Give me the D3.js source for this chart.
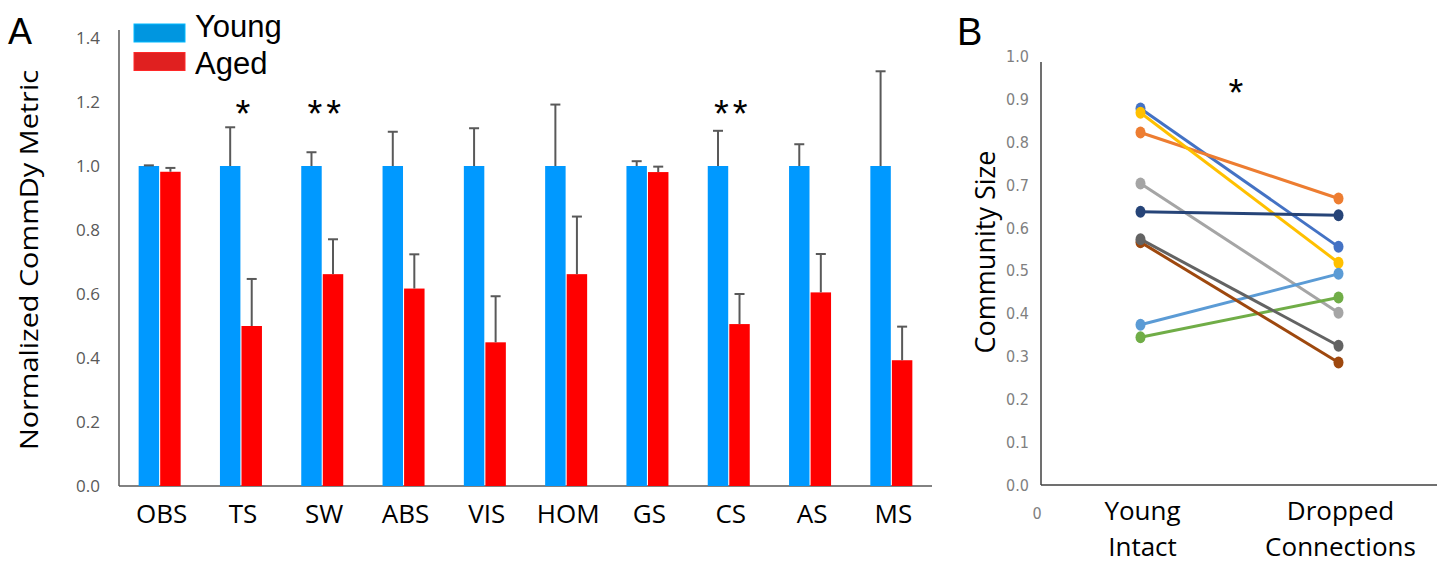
<!DOCTYPE html>
<html>
<head>
<meta charset="utf-8">
<script src="https://cdn.jsdelivr.net/npm/d3@7"></script>
<style>
  body { margin: 0; background: #fff; }
  svg { display: block; }
  text { font-family: "Open Sans", sans-serif; }
  .arial { font-family: "Liberation Sans", Arial, sans-serif; }
  .narrow { font-family: "Liberation Sans Narrow", "DejaVu Sans Condensed", sans-serif; }
</style>
</head>
<body>
<svg width="1442" height="563"></svg>
<script>
// panel A data
const tasks = ['OBS', 'TS', 'SW', 'ABS', 'VIS', 'HOM', 'GS', 'CS', 'AS', 'MS'];
const youngMean = [1, 1, 1, 1, 1, 1, 1, 1, 1, 1];
const youngErr = [0.002, 0.121, 0.043, 0.107, 0.118, 0.192, 0.015, 0.11, 0.068, 0.296];
const agedMean = [0.982, 0.5, 0.662, 0.617, 0.449, 0.662, 0.981, 0.506, 0.605, 0.393];
const agedErr = [0.012, 0.147, 0.109, 0.107, 0.144, 0.18, 0.017, 0.094, 0.12, 0.105];
const stars = { TS: '*', SW: '**', CS: '**' };
const yTicksA = [0, 0.2, 0.4, 0.6, 0.8, 1.0, 1.2, 1.4];

// panel B data
const conditions = ['Young Intact', 'Dropped Connections'];
const subjects = ['s1', 's2', 's3', 's4', 's5', 's6', 's7', 's8', 's9'];
const intactSize = [0.879, 0.823, 0.704, 0.869, 0.374, 0.345, 0.638, 0.567, 0.574];
const droppedSize = [0.556, 0.669, 0.402, 0.519, 0.493, 0.438, 0.63, 0.286, 0.325];
const lineColors = ['#4472C4', '#ED7D31', '#A5A5A5', '#FFC000', '#5B9BD5', '#70AD47', '#264478', '#9E480E', '#636363'];
const yTicksB = [0, 0.1, 0.2, 0.3, 0.4, 0.5, 0.6, 0.7, 0.8, 0.9, 1.0];

const svg = d3.select('svg');
const blue = '#0099FF', red = '#FF0000', errColor = '#595959';

// ---------- panel A ----------
const xA = d3.scaleBand().domain(tasks).range([119, 932]);
const xSeries = d3.scaleBand().domain(['young', 'aged']).range([0, 42]).paddingInner(0.05);
const yA = d3.scaleLinear().domain([0, 1.4]).range([486, 38]);
const groupLeft = t => xA(t) + xA.bandwidth() / 2 - 21;

const rowsA = tasks.map((t, i) => ({ task: t, young: youngMean[i], youngErr: youngErr[i], aged: agedMean[i], agedErr: agedErr[i] }));

const gA = svg.append('g');
gA.append('line').attr('x1', 119).attr('x2', 119).attr('y1', 30).attr('y2', yA(0))
  .attr('stroke', '#595959').attr('stroke-width', 1.5);
gA.append('line').attr('x1', 119).attr('x2', 932).attr('y1', yA(0)).attr('y2', yA(0))
  .attr('stroke', '#595959').attr('stroke-width', 1.5);

gA.selectAll('.ytick').data(yTicksA).enter().append('text')
  .attr('x', 100).attr('y', d => yA(d)).attr('dy', '0.35em')
  .attr('text-anchor', 'end').attr('font-size', 17).attr('fill', '#595959')
  .text(d => d3.format('.1f')(d));

gA.selectAll('.xlab').data(tasks).enter().append('text')
  .attr('x', d => xA(d) + xA.bandwidth() / 2 + 2).attr('y', 523)
  .attr('text-anchor', 'middle').attr('font-size', 26).attr('fill', '#000')
  .text(d => d);

['young', 'aged'].forEach(s => {
  const col = s === 'young' ? blue : red;
  gA.selectAll('.bar-' + s).data(rowsA).enter().append('rect')
    .attr('x', d => groupLeft(d.task) + xSeries(s))
    .attr('width', xSeries.bandwidth())
    .attr('y', d => yA(d[s]))
    .attr('height', d => yA(0) - yA(d[s]))
    .attr('fill', col);
  const ex = d => groupLeft(d.task) + xSeries(s) + xSeries.bandwidth() / 2;
  gA.selectAll('.err-' + s).data(rowsA).enter().append('line')
    .attr('x1', ex).attr('x2', ex)
    .attr('y1', d => yA(d[s])).attr('y2', d => yA(d[s] + d[s + 'Err']))
    .attr('stroke', errColor).attr('stroke-width', 2);
  gA.selectAll('.cap-' + s).data(rowsA).enter().append('line')
    .attr('x1', d => ex(d) - 5).attr('x2', d => ex(d) + 5)
    .attr('y1', d => yA(d[s] + d[s + 'Err'])).attr('y2', d => yA(d[s] + d[s + 'Err']))
    .attr('stroke', errColor).attr('stroke-width', 2);
});

gA.selectAll('.star').data(Object.keys(stars)).enter().append('text')
  .attr('class', 'arial')
  .attr('x', d => xA(d) + xA.bandwidth() / 2 + 4).attr('y', 127)
  .attr('text-anchor', 'middle').attr('font-size', 38).attr('letter-spacing', 4)
  .text(d => stars[d]);

// legend
const legend = [{ name: 'Young', color: '#0096E0' }, { name: 'Aged', color: '#E02020' }];
const lg = gA.selectAll('.leg').data(legend).enter().append('g');
lg.append('rect').attr('x', 134).attr('y', (d, i) => 24 + i * 28.5)
  .attr('width', 51).attr('height', 18).attr('fill', d => d.color)
  .attr('stroke', d => d3.color(d.color).brighter(0.6)).attr('stroke-width', 1);
lg.append('text').attr('class', 'arial').attr('x', 195).attr('y', (d, i) => 37 + i * 37)
  .attr('font-size', 31)
  .text(d => d.name);

svg.append('text').attr('class', 'arial').attr('x', 8).attr('y', 44).attr('font-size', 36).text('A');
svg.append('text').attr('transform', 'translate(38,260) rotate(-90)')
  .attr('text-anchor', 'middle').attr('font-size', 26)
  .attr('textLength', 380).attr('lengthAdjust', 'spacingAndGlyphs')
  .text('Normalized CommDy Metric');

// ---------- panel B ----------
const xB = d3.scalePoint().domain(conditions).range([1140.5, 1338.5]);
const yB = d3.scaleLinear().domain([0, 1]).range([485, 56.7]);
const gB = svg.append('g');

gB.append('line').attr('x1', 1041).attr('x2', 1041).attr('y1', 62).attr('y2', yB(0))
  .attr('stroke', '#404040').attr('stroke-width', 1.5);
gB.append('line').attr('x1', 1041).attr('x2', 1437).attr('y1', yB(0)).attr('y2', yB(0))
  .attr('stroke', '#404040').attr('stroke-width', 1.5);

gB.selectAll('.ytick').data(yTicksB).enter().append('text')
  .attr('class', 'narrow')
  .attr('x', 1029).attr('y', d => yB(d)).attr('dy', '0.35em')
  .attr('text-anchor', 'end').attr('font-size', 16).attr('fill', '#7f7f7f')
  .text(d => d3.format('.1f')(d));
gB.append('text').attr('class', 'narrow').attr('x', 1037).attr('y', 513).attr('dy', '0.35em')
  .attr('text-anchor', 'middle').attr('font-size', 16).attr('fill', '#7f7f7f')
  .text('0');

conditions.forEach(c => {
  const words = c.split(' ');
  gB.append('text').attr('x', xB(c) + 2).attr('y', 520)
    .attr('text-anchor', 'middle').attr('font-size', 26)
    .selectAll('tspan').data(words).enter().append('tspan')
    .attr('x', xB(c) + 2).attr('dy', (d, i) => i ? 36 : 0).text(d => d);
});

const rowsB = subjects.map((s, i) => ({ id: s, color: lineColors[i], vals: [intactSize[i], droppedSize[i]] }));
const lineB = d3.line().x((d, i) => xB(conditions[i])).y(d => yB(d));
const series = gB.selectAll('.subj').data(rowsB).enter().append('g');
series.append('path').attr('d', d => lineB(d.vals)).attr('fill', 'none')
  .attr('stroke', d => d.color).attr('stroke-width', 3);
series.selectAll('ellipse').data(d => d.vals.map(v => ({ v, color: d.color }))).enter().append('ellipse')
  .attr('cx', (d, i) => xB(conditions[i])).attr('cy', d => yB(d.v))
  .attr('rx', 5).attr('ry', 6).attr('fill', d => d.color);

gB.append('text').attr('class', 'arial').attr('x', 1236).attr('y', 106).attr('text-anchor', 'middle')
  .attr('font-size', 38).text('*');

svg.append('text').attr('class', 'arial').attr('x', 957).attr('y', 45).attr('font-size', 38).text('B');
svg.append('text').attr('transform', 'translate(995,252) rotate(-90)')
  .attr('text-anchor', 'middle').attr('font-size', 27).text('Community Size');
</script>
</body>
</html>
